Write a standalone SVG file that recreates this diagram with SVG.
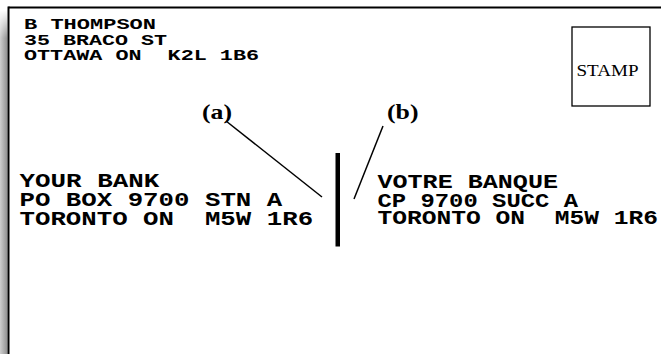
<svg xmlns="http://www.w3.org/2000/svg" width="661" height="354" viewBox="0 0 661 354">
  <defs>
    <linearGradient id="shadeH" x1="0" y1="0" x2="1" y2="0">
      <stop offset="0" stop-color="#cfcfcf"/>
      <stop offset="1" stop-color="#8f8f8f"/>
    </linearGradient>
    <linearGradient id="fadeV" x1="0" y1="0" x2="0" y2="1">
      <stop offset="0" stop-color="#fff" stop-opacity="0"/>
      <stop offset="1" stop-color="#fff" stop-opacity="1"/>
    </linearGradient>
    <mask id="shadowMask" maskUnits="userSpaceOnUse" x="0" y="0" width="661" height="354">
      <rect x="0" y="10" width="10" height="28" fill="url(#fadeV)"/>
      <rect x="0" y="38" width="10" height="316" fill="#fff"/>
    </mask>
    <style>
      .mono { font-family: "Liberation Mono", "Courier New", monospace; font-weight: bold; fill: #000; white-space: pre; }
      .serif { font-family: "Liberation Serif", "Times New Roman", serif; fill: #000; }
      .lbl { font-weight: bold; font-size: 21px; }
      .conn { stroke: #000; stroke-width: 1.5; fill: none; }
    </style>
  </defs>

  <rect x="0" y="0" width="661" height="354" fill="#fff"/>

  <g id="envelope">
    <rect x="0" y="10" width="7.5" height="344" fill="url(#shadeH)" mask="url(#shadowMask)"/>
    <line x1="8.5" y1="7.5" x2="661" y2="7.5" stroke="#000" stroke-width="2"/>
    <line x1="8.5" y1="6.5" x2="8.5" y2="354" stroke="#000" stroke-width="2"/>
  </g>

  <g id="return-address">
    <text class="mono" font-size="15.2" x="24" y="29" textLength="132" lengthAdjust="spacingAndGlyphs">B THOMPSON</text>
    <text class="mono" font-size="15.2" x="24" y="45" textLength="143" lengthAdjust="spacingAndGlyphs">35 BRACO ST</text>
    <text class="mono" font-size="15.2" x="24" y="60" textLength="235" lengthAdjust="spacingAndGlyphs">OTTAWA ON  K2L 1B6</text>
  </g>

  <g id="stamp">
    <rect x="572" y="27" width="78" height="79" fill="#fff" stroke="#000" stroke-width="1.3"/>
    <text class="serif" font-size="16.5" x="576.5" y="76" textLength="62" lengthAdjust="spacingAndGlyphs">STAMP</text>
  </g>

  <g id="address-en">
    <text class="mono" font-size="20.2" x="19.5" y="187" textLength="139.8" lengthAdjust="spacingAndGlyphs">YOUR BANK</text>
    <text class="mono" font-size="20.2" x="19.5" y="206" textLength="262.7" lengthAdjust="spacingAndGlyphs">PO BOX 9700 STN A</text>
    <text class="mono" font-size="20.2" x="19.5" y="225" textLength="293.6" lengthAdjust="spacingAndGlyphs">TORONTO ON  M5W 1R6</text>
  </g>

  <g id="divider">
    <rect x="335.5" y="153" width="4.5" height="93.5" fill="#000"/>
  </g>

  <g id="address-fr">
    <text class="mono" font-size="20.2" x="377.5" y="188" textLength="180.5" lengthAdjust="spacingAndGlyphs">VOTRE BANQUE</text>
    <text class="mono" font-size="20.2" x="377.5" y="206.5" textLength="200.5" lengthAdjust="spacingAndGlyphs">CP 9700 SUCC A</text>
    <text class="mono" font-size="20.2" x="377.5" y="224" textLength="280.5" lengthAdjust="spacingAndGlyphs">TORONTO ON  M5W 1R6</text>
  </g>

  <g id="label-a">
    <text class="serif lbl" x="202" y="119" textLength="30" lengthAdjust="spacingAndGlyphs">(a)</text>
  </g>
  <g id="label-b">
    <text class="serif lbl" x="387" y="119" textLength="31.5" lengthAdjust="spacingAndGlyphs">(b)</text>
  </g>

  <g id="connectors">
    <line class="conn" x1="226" y1="121" x2="322" y2="197"/>
    <line class="conn" x1="383" y1="126" x2="354" y2="199"/>
  </g>
</svg>
